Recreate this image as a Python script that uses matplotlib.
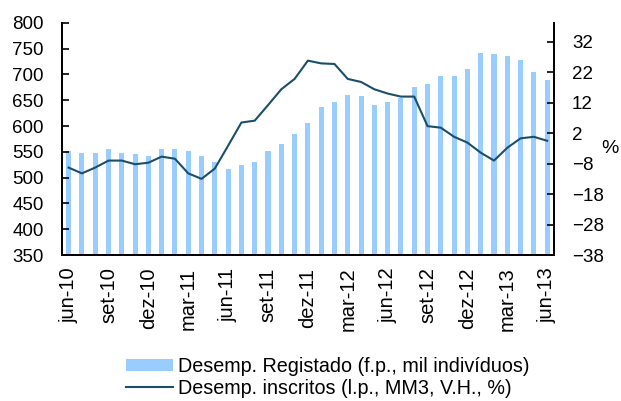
import matplotlib as mpl
import matplotlib.pyplot as plt
import numpy as np

PALETTE = {
    "bar": "#99CCFF",
    "line": "#1A4F6A",
    "text": "#000000",
}

months = [
    "jun-10", "jul-10", "ago-10", "set-10", "out-10", "nov-10", "dez-10",
    "jan-11", "fev-11", "mar-11", "abr-11", "mai-11", "jun-11", "jul-11",
    "ago-11", "set-11", "out-11", "nov-11", "dez-11", "jan-12", "fev-12",
    "mar-12", "abr-12", "mai-12", "jun-12", "jul-12", "ago-12", "set-12",
    "out-12", "nov-12", "dez-12", "jan-13", "fev-13", "mar-13", "abr-13",
    "mai-13", "jun-13",
]
registado = [
    552, 548, 548, 555, 548, 545, 542, 555, 555, 552, 542, 531, 517, 524,
    531, 552, 566, 584, 605, 636, 647, 661, 658, 640, 647, 655, 675, 682,
    697, 697, 710, 742, 739, 735, 728, 704, 689,
]
inscritos = [
    -9.3, -11.2, -9.3, -7.0, -7.0, -8.2, -7.7, -5.7, -6.4, -11.2, -13.0,
    -9.6, -2.1, 5.5, 6.1, 11.2, 16.4, 19.8, 25.8, 24.9, 24.7, 19.8, 18.8,
    16.4, 15.0, 14.0, 14.0, 4.3, 3.8, 0.8, -1.1, -4.4, -7.0, -2.8, 0.3,
    0.8, -0.5,
]
label_idx = list(range(0, len(months), 3))

mpl.rcParams.update(
    {
        "font.family": "sans-serif",
        "font.sans-serif": ["Liberation Sans", "DejaVu Sans"],
        "font.size": 13.5,
        "axes.linewidth": 1.3,
        "xtick.direction": "in",
        "ytick.direction": "in",
    }
)

fig = plt.figure(figsize=(6.21, 4.01), dpi=100)
ax = fig.add_axes([0.0998, 0.364, 0.792, 0.579])
ax2 = ax.twinx()

x = np.arange(len(months))
ax.bar(x, registado, width=0.38, color=PALETTE["bar"], zorder=1)
ln, = ax2.plot(x, inscritos, color=PALETTE["line"], linewidth=1.5)

ax.set_xlim(-0.5, len(months) - 0.5)
ax.set_ylim(350, 800)
ax.set_yticks(range(350, 801, 50))
ax2.set_ylim(-38, 38.2)
ax2.set_yticks(range(-38, 33, 10))

ax.set_xticks(x[label_idx], [months[i] for i in label_idx], rotation=90,
              fontsize=14.5)
ax.tick_params(axis="x", length=0, pad=9)
ax.tick_params(axis="y", length=5, width=1.2, pad=13, labelsize=13.5)
ax2.tick_params(axis="y", length=5, width=1.2, pad=13, labelsize=13.5)

for a in (ax, ax2):
    a.spines["top"].set_visible(False)

ax2.text(1.114, 0.461, "%", transform=ax2.transAxes, ha="center",
         va="center", fontsize=14)

handles = [ax.patches[0], ln]
labels = ["Desemp. Registado (f.p., mil indivíduos)",
          "Desemp. inscritos (l.p., MM3, V.H., %)"]
fig.legend(handles, labels, loc="lower left",
           bbox_to_anchor=(126 / 621, 0.008), frameon=False, ncols=1,
           prop={"size": 14.2}, handlelength=2.4, handleheight=0.55,
           handletextpad=0.26, labelspacing=0.15, borderpad=0.0,
           borderaxespad=0.0)

fig.savefig("out.png", dpi=100)
